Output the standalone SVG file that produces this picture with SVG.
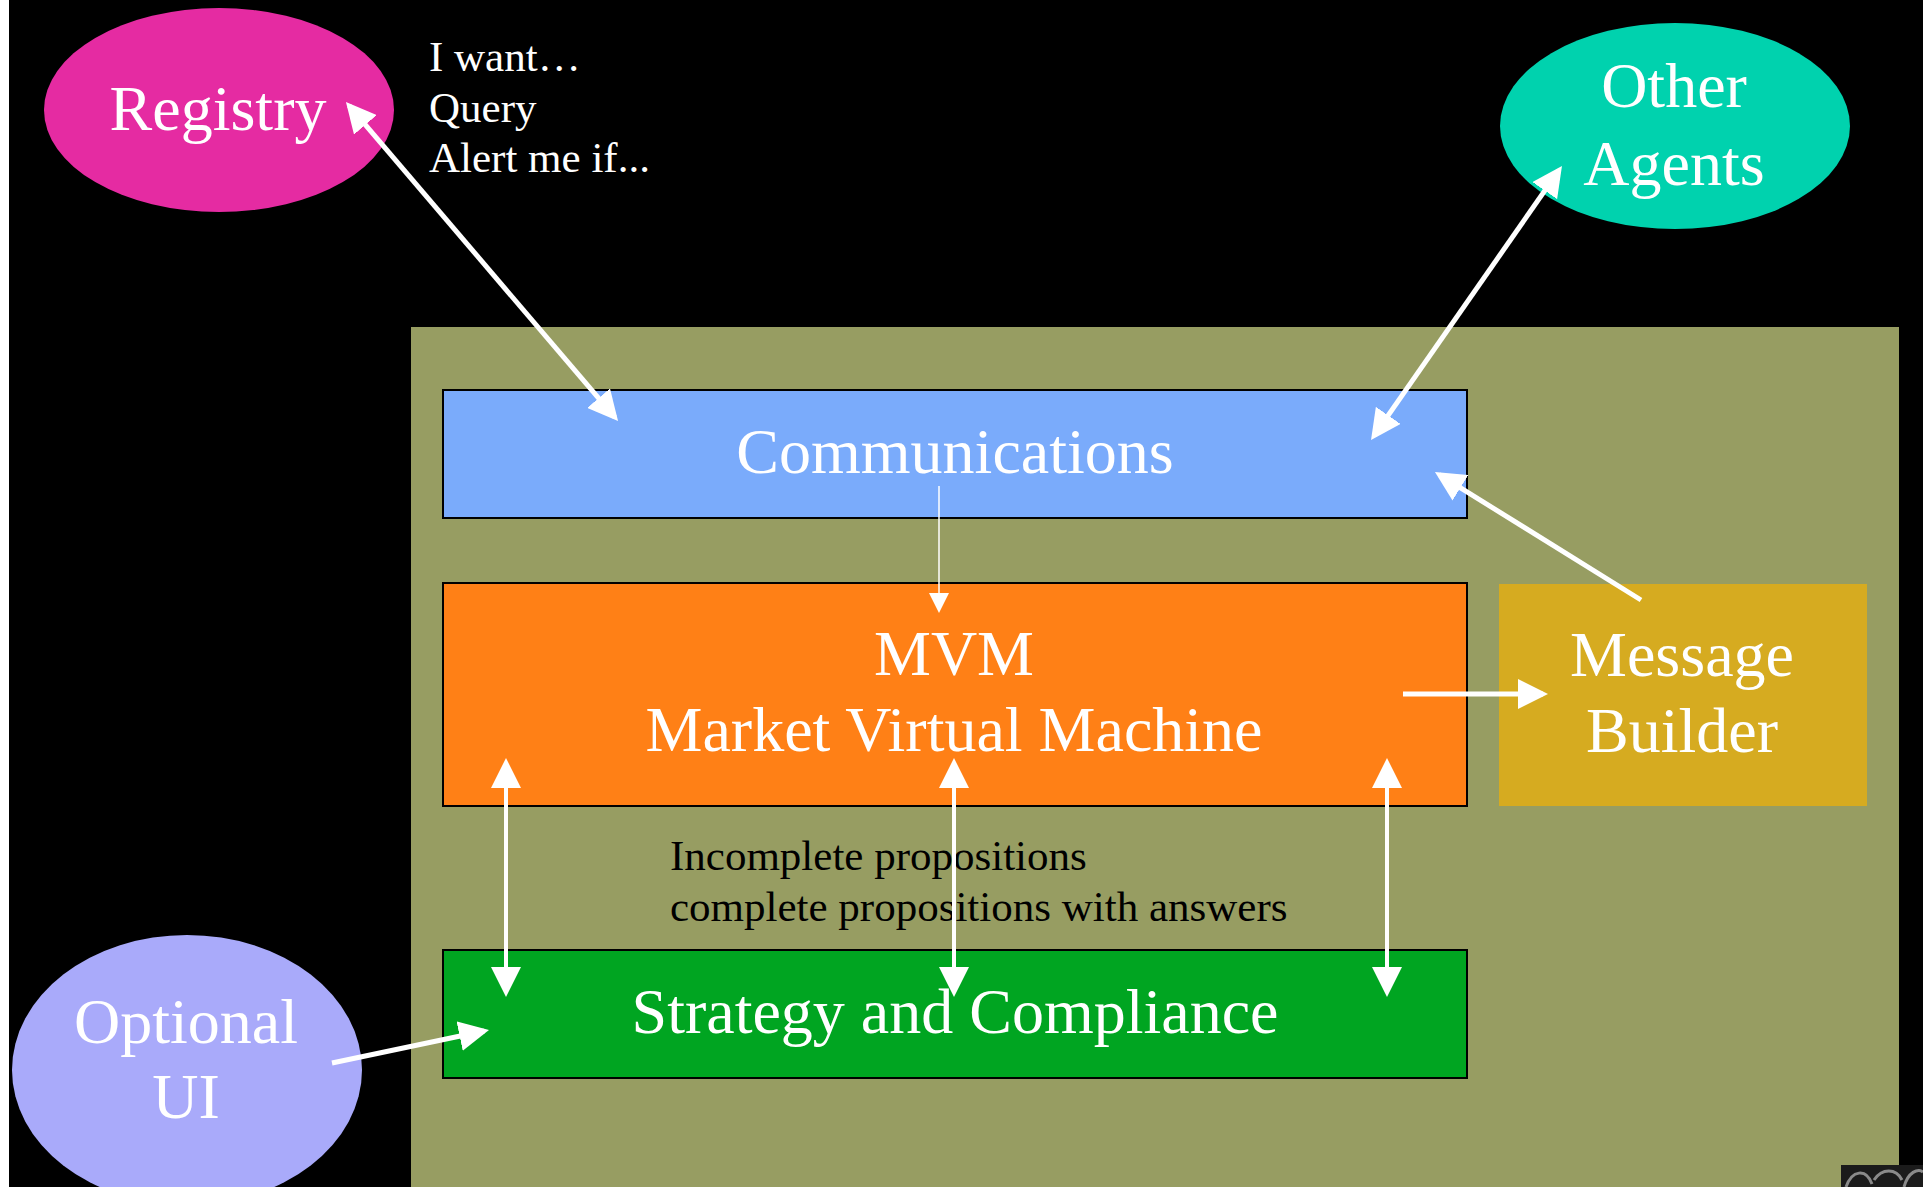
<svg xmlns="http://www.w3.org/2000/svg" width="1923" height="1187" viewBox="0 0 1923 1187">
  <defs>
    <style>
      .lbl { font-family: "Liberation Serif", "Times New Roman", serif; fill: #ffffff; font-size: 64px; text-anchor: middle; }
      .note { font-family: "Liberation Serif", "Times New Roman", serif; font-size: 43px; }
      .box { stroke: #000000; stroke-width: 2; }
      .wire { stroke: #ffffff; stroke-width: 5; fill: none; }
      .wire-v { stroke: #ffffff; stroke-width: 4; fill: none; }
      .wire-thin { stroke: #ffffff; stroke-width: 1.5; fill: none; }
    </style>
    <marker id="head" markerUnits="userSpaceOnUse" markerWidth="30" markerHeight="30" viewBox="0 0 30 30" refX="25" refY="15" orient="auto-start-reverse">
      <path d="M0,0 L30,15 L0,30 z" fill="#ffffff"/>
    </marker>
    <marker id="head-small" markerUnits="userSpaceOnUse" markerWidth="20" markerHeight="20" viewBox="0 0 20 20" refX="18" refY="10" orient="auto-start-reverse">
      <path d="M0,0 L20,10 L0,20 z" fill="#ffffff"/>
    </marker>
  </defs>

  <!-- backdrop -->
  <rect x="0" y="0" width="1923" height="1187" fill="#000000"/>
  <rect x="0" y="0" width="9" height="1187" fill="#ffffff"/>

  <!-- agent container -->
  <rect id="agent-frame" x="411" y="327" width="1488" height="860" fill="#979D62"/>

  <!-- corner thumbnail -->
  <g id="thumb">
    <rect x="1841" y="1165" width="82" height="22" fill="#1b1b1b"/>
    <path d="M1846,1187 C1852,1170 1866,1168 1872,1184 M1874,1180 C1882,1168 1896,1168 1902,1180 M1904,1187 C1908,1172 1918,1168 1923,1172" stroke="#8a8a8a" stroke-width="3" fill="none"/>
  </g>

  <g id="registry">
    <ellipse cx="219" cy="110" rx="175" ry="102" fill="#E52BA2"/>
    <text class="lbl" x="218" y="130">Registry</text>
  </g>

  <g id="registry-note" class="note" fill="#ffffff">
    <text x="429" y="71">I want…</text>
    <text x="429" y="122">Query</text>
    <text x="429" y="172">Alert me if...</text>
  </g>

  <g id="other-agents">
    <ellipse cx="1675" cy="126" rx="175" ry="103" fill="#00D2AE"/>
    <text class="lbl" x="1674" y="107">Other</text>
    <text class="lbl" x="1674" y="185">Agents</text>
  </g>

  <g id="communications">
    <rect class="box" x="443" y="390" width="1024" height="128" fill="#7AABFB"/>
    <text class="lbl" x="955" y="473">Communications</text>
  </g>

  <g id="mvm">
    <rect class="box" x="443" y="583" width="1024" height="223" fill="#FF8016"/>
    <text class="lbl" x="954" y="675">MVM</text>
    <text class="lbl" x="954" y="751">Market Virtual Machine</text>
  </g>

  <g id="message-builder">
    <rect x="1499" y="584" width="368" height="222" fill="#D6AB20"/>
    <text class="lbl" x="1682" y="676">Message</text>
    <text class="lbl" x="1682" y="752">Builder</text>
  </g>

  <g id="strategy">
    <rect class="box" x="443" y="950" width="1024" height="128" fill="#00A521"/>
    <text class="lbl" x="955" y="1033">Strategy and Compliance</text>
  </g>

  <g id="optional-ui">
    <ellipse cx="187" cy="1070" rx="175" ry="135" fill="#A9AAFA"/>
    <text class="lbl" x="186" y="1043">Optional</text>
    <text class="lbl" x="186" y="1118">UI</text>
  </g>

  <g id="proposition-note" class="note" fill="#000000">
    <text x="670" y="870">Incomplete propositions</text>
    <text x="670" y="921">complete propositions with answers</text>
  </g>

  <!-- connectors -->
  <g id="connectors">
    <line class="wire" x1="349.2" y1="105.8" x2="614.8" y2="417.2" marker-start="url(#head)" marker-end="url(#head)"/>
    <line class="wire" x1="1559.1" y1="170.1" x2="1373.9" y2="435.9" marker-start="url(#head)" marker-end="url(#head)"/>
    <line class="wire" x1="1641" y1="600" x2="1439.2" y2="474.6" marker-end="url(#head)"/>
    <line class="wire-thin" x1="939" y1="486" x2="939" y2="611" marker-end="url(#head-small)"/>
    <line class="wire" x1="1403" y1="694" x2="1543" y2="694" marker-end="url(#head)"/>
    <line class="wire-v" x1="506" y1="763" x2="506" y2="992" marker-start="url(#head)" marker-end="url(#head)"/>
    <line class="wire-v" x1="954" y1="763" x2="954" y2="992" marker-start="url(#head)" marker-end="url(#head)"/>
    <line class="wire-v" x1="1387" y1="763" x2="1387" y2="992" marker-start="url(#head)" marker-end="url(#head)"/>
    <line class="wire" x1="332" y1="1063" x2="484.1" y2="1031" marker-end="url(#head)"/>
  </g>
</svg>
